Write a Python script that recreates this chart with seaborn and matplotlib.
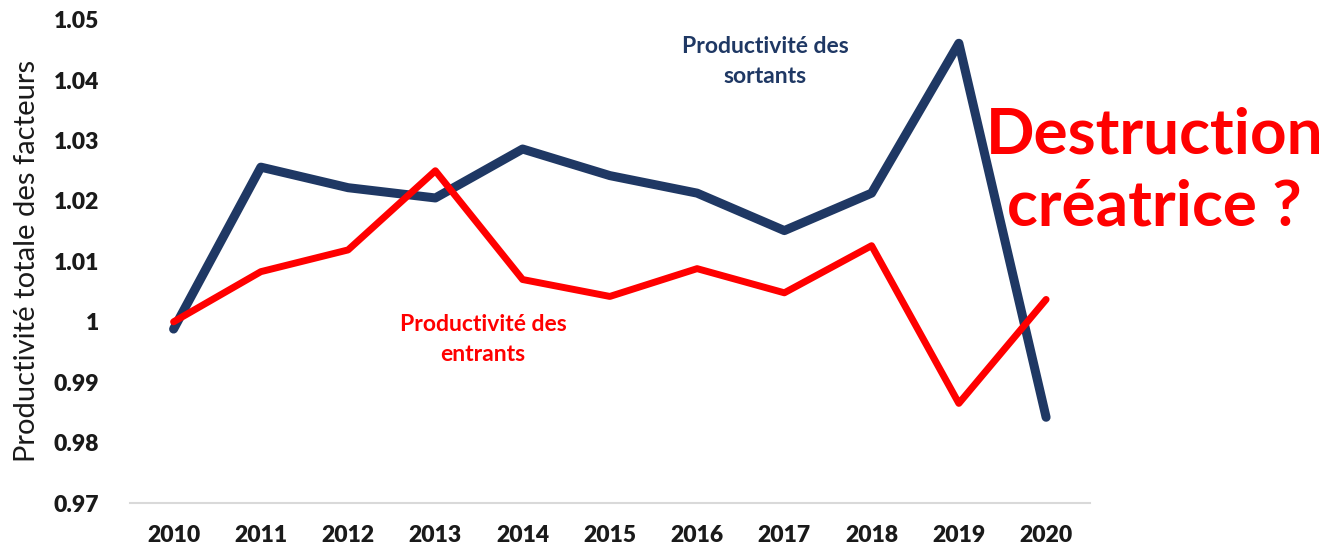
import matplotlib
matplotlib.use("Agg")
import matplotlib.pyplot as plt
import seaborn as sns
import pandas as pd

# data
years = ["2010", "2011", "2012", "2013", "2014", "2015", "2016", "2017", "2018", "2019", "2020"]
sortants = [0.9988, 1.0256, 1.0222, 1.0205, 1.0286, 1.0242, 1.0213, 1.0151, 1.0213, 1.0461, 0.9842]
entrants = [1.0000, 1.0083, 1.0119, 1.0250, 1.0070, 1.0042, 1.0088, 1.0048, 1.0126, 0.9865, 1.0037]
yticks = [0.97, 0.98, 0.99, 1.00, 1.01, 1.02, 1.03, 1.04, 1.05]

navy = "#1f3864"
red = "#ff0000"

sns.set_style("white")
plt.rcParams["font.family"] = ["Lato", "DejaVu Sans"]

df = pd.DataFrame({"annee": years, "sortants": sortants, "entrants": entrants})

fig = plt.figure(figsize=(13.33, 5.48), dpi=100)
ax = fig.add_axes([0.0975, 0.082, 0.72, 0.882])

sns.lineplot(data=df, x="annee", y="sortants", color=navy, linewidth=6.5, ax=ax,
             solid_capstyle="round", solid_joinstyle="round", zorder=2)
sns.lineplot(data=df, x="annee", y="entrants", color=red, linewidth=5, ax=ax,
             solid_capstyle="round", solid_joinstyle="round", zorder=3)

ax.set_ylim(0.97, 1.05)
ax.set_xlim(-0.5, len(years) - 0.5)
ax.set_yticks(yticks)
ax.set_yticklabels([f"{v:g}" for v in yticks])
ax.tick_params(axis="y", length=0, labelsize=16.5, colors="#1a1a1a", pad=22)
ax.tick_params(axis="x", length=0, labelsize=16.5, colors="#1a1a1a", pad=16)
for lab in ax.get_xticklabels() + ax.get_yticklabels():
    lab.set_fontweight("heavy")
ax.set_xlabel("")
ax.set_ylabel("Productivité totale des facteurs", fontsize=21, color="#1a1a1a", labelpad=10)

for s in ["top", "right", "left"]:
    ax.spines[s].set_visible(False)
ax.spines["bottom"].set_color("#d9d9d9")
ax.spines["bottom"].set_linewidth(1.5)

ax.text(0.574, 0.888, "Productivité des\nsortants", transform=fig.transFigure,
        ha="center", va="center", fontsize=16.5, fontweight="bold", color=navy,
        linespacing=1.55)
ax.text(0.3625, 0.381, "Productivité des\nentrants", transform=fig.transFigure,
        ha="center", va="center", fontsize=16.5, fontweight="bold", color=red,
        linespacing=1.55)
fig.text(0.866, 0.688, "Destruction\ncréatrice ?", ha="center", va="center",
         fontsize=46, fontweight="bold", color=red, linespacing=1.32)

fig.savefig("out.png", dpi=100)
